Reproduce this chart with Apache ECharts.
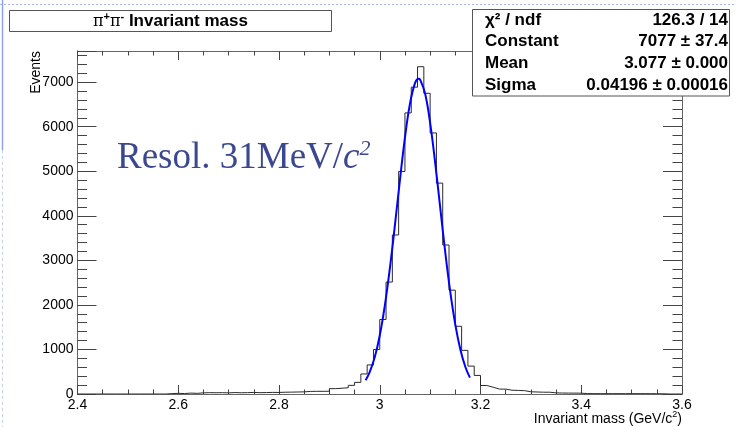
<!DOCTYPE html>
<html><head><meta charset="utf-8">
<script src="https://cdn.jsdelivr.net/npm/echarts@6/dist/echarts.min.js"></script>
<style>html,body{margin:0;padding:0;background:#fff}#c{width:736px;height:427px}</style>
</head><body><div id="c"></div>
<script>
// ---- data ----
const histStart = 2.4;
const binWidth = 0.0125;
const histCounts = [
  0,0,0,0,0,0,0,0,0,0,0,0,0,0,          // 2.4000 - 2.5750
  8,15,10,20,15,25,30,28,30,25,          // k14-23
  32,28,30,35,30,32,36,35,40,42,         // k24-33
  45,48,58,60,60,62,120,130,140,194,     // k34-43
  261,450,653,998,1673,2513,3570,4995,6310,6888, // k44-53
  7347,6750,5860,4734,3345,2331,1520,980,626,417, // k54-63
  191,153,110,110,85,80,75,50,45,40,     // k64-73
  40,25,22,20,20,18,10,8,8,8,            // k74-83
  8,8,8,8,8,8,8,6,5,0,                   // k84-93
  0,0                                    // k94-95
];
const fitX = [2.972,2.98,2.99,3.00,3.01,3.02,3.03,3.04,3.05,3.06,3.07,3.077,3.08,3.09,3.10,3.11,3.12,3.13,3.14,3.15,3.16,3.17,3.179];
const fitY = [309,489,824,1314,1978,2813,3779,4796,5754,6519,6979,7077,7059,6745,6088,5195,4187,3186,2293,1559,1001,607,368];
const xTickLabels = ['2.4','2.6','2.8','3','3.2','3.4','3.6'];
const yTickLabels = ['0','1000','2000','3000','4000','5000','6000','7000'];
const statsLabels = ['χ² / ndf','Constant','Mean','Sigma'];
const statsValues = ['126.3 / 14','7077 ± 37.4','3.077 ± 0.000','0.04196 ± 0.00016'];

// ---- build ----
const histPts = histCounts.map((v,k)=>[histStart + k*binWidth, v]);
histPts.push([histStart + histCounts.length*binWidth, histCounts[histCounts.length-1]]);
const fitPts = fitX.map((x,i)=>[x, fitY[i]]);

const FF = "'Liberation Sans', Arial, Helvetica, sans-serif";
const axisCol = '#666';
const tickCol = '#444';

function xAx(pos, showLabel){
  return {type:'value', min:2.4, max:3.6, interval:0.2, position:pos,
    axisLine:{show:true, onZero:false, lineStyle:{color:axisCol, width:1}},
    axisTick:{show:true, inside:true, length:9, lineStyle:{color:tickCol}},
    minorTick:{show:true, splitNumber:4, length:4.5, lineStyle:{color:tickCol}},
    splitLine:{show:false}, minorSplitLine:{show:false},
    axisLabel:{show:showLabel, fontSize:14, color:'#000', fontFamily:FF, margin:4,
      formatter:(v)=>{const i=Math.round((v-2.4)/0.2); return xTickLabels[i]!==undefined?xTickLabels[i]:'';}}
  };
}
function yAx(pos, interval, len, showLabel){
  return {type:'value', min:0, max:7700, interval:interval, position:pos,
    axisLine:{show:true, onZero:false, lineStyle:{color:axisCol, width:1}},
    axisTick:{show:true, inside:true, length:len, lineStyle:{color:tickCol}},
    splitLine:{show:false},
    axisLabel:{show:showLabel, fontSize:14, color:'#000', fontFamily:FF, margin:4,
      formatter:(v)=>{ if (v % 1000 !== 0) return ''; const i=v/1000; return yTickLabels[i]!==undefined?yTickLabels[i]:''; }}
  };
}

const chart = echarts.init(document.getElementById('c'), null, {renderer:'canvas'});
const statsTexts = [];
const rowY = [20, 41.7, 63.4, 85];
statsLabels.forEach((s,i)=>{
  statsTexts.push({type:'text', x:485, y:rowY[i], z:102, style:{text:s, font:"bold 17px "+FF, fill:'#000', textVerticalAlign:'middle', verticalAlign:'middle', align:'left'}});
  statsTexts.push({type:'text', x:728, y:rowY[i], z:102, style:{text:statsValues[i], font:"bold 17px "+FF, fill:'#000', textVerticalAlign:'middle', verticalAlign:'middle', align:'right', textAlign:'right'}});
});

chart.setOption({
  animation:false,
  backgroundColor:'#fff',
  grid:{left:77.5, right:736-682, top:51, bottom:427-394, containLabel:false},
  xAxis:[xAx('bottom', true), xAx('top', false)],
  yAxis:[yAx('left',1000,19,true), yAx('left',200,9.5,false), yAx('right',1000,19,false), yAx('right',200,9.5,false)],
  series:[
    {type:'line', data:histPts, step:'end', symbol:'none', xAxisIndex:0, yAxisIndex:0,
      lineStyle:{color:'#2a2a2a', width:1}, z:2},
    {type:'line', data:fitPts, smooth:0.4, symbol:'none', xAxisIndex:0, yAxisIndex:0,
      lineStyle:{color:'#0000ff', width:2}, z:3}
  ],
  graphic:[
    // slide decorations
    {type:'line', shape:{x1:0, y1:4.5, x2:736, y2:4.5}, style:{stroke:'#a9b9ec', lineWidth:1, lineDash:[2,2]}, z:1},
    {type:'line', shape:{x1:2.5, y1:0, x2:2.5, y2:150}, style:{stroke:'#8fa3ea', lineWidth:1.5}, z:1},
    {type:'line', shape:{x1:2.5, y1:150, x2:2.5, y2:427}, style:{stroke:'#c3cdf0', lineWidth:1, lineDash:[3,3]}, z:1},
    // title box
    {type:'rect', shape:{x:9.5, y:10.5, width:322, height:21}, style:{fill:'#fff', stroke:'#555', lineWidth:1}, z:100},
    {type:'text', x:170.5, y:21.5, z:101, style:{
      text:'{p|π}{s|+}{p|π}{s|-}{b| Invariant mass}', align:'center', verticalAlign:'middle',
      rich:{
        p:{fontFamily:"'DejaVu Serif','Liberation Serif',serif", fontSize:16, fill:'#000', lineHeight:20},
        s:{fontFamily:FF, fontSize:11, fontWeight:'bold', fill:'#000', verticalAlign:'top', lineHeight:20, padding:[0,0,6,0]},
        b:{fontFamily:FF, fontSize:17, fontWeight:'bold', fill:'#000', lineHeight:20}
      }}},
    // stats box
    {type:'rect', shape:{x:472.5, y:9.5, width:257, height:86.5}, style:{fill:'#fff', stroke:'#555', lineWidth:1}, z:100},
    ...statsTexts,
    // annotation
    {type:'text', x:117, y:158, z:50, style:{
      text:'{r|Resol. 31MeV/}{i|c}{s|2}', align:'left', verticalAlign:'middle',
      rich:{
        r:{fontFamily:"'Liberation Serif','Times New Roman',serif", fontSize:37, fill:'#3b4890', lineHeight:44},
        i:{fontFamily:"'Liberation Serif','Times New Roman',serif", fontSize:37, fontStyle:'italic', fill:'#3b4890', lineHeight:44},
        s:{fontFamily:"'Liberation Serif','Times New Roman',serif", fontSize:22, fontStyle:'italic', fill:'#3b4890', lineHeight:44, padding:[0,0,18,0]}
      }}},
    // axis titles
    {type:'text', x:682, y:419, z:50, style:{
      text:'{t|Invariant mass (GeV/c}{s|2}{t|)}', align:'right', verticalAlign:'middle',
      rich:{ t:{fontFamily:FF, fontSize:14, fill:'#000', lineHeight:18}, s:{fontFamily:FF, fontSize:9, fill:'#000', lineHeight:18, padding:[0,0,8,0]} }}},
    {type:'text', x:36, y:51, rotation:Math.PI/2, z:50, style:{
      text:'Events', font:"14px "+FF, fill:'#000', align:'right', verticalAlign:'middle'}}
  ]
});
</script></body></html>
